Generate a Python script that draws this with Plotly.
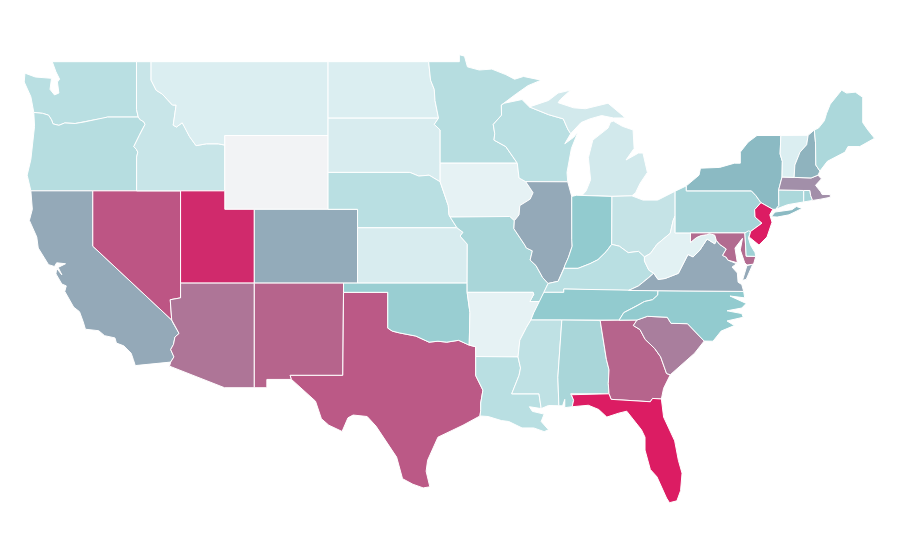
import plotly.graph_objects as go
from plotly.colors import sample_colorscale

# share shown per state, estimated from the shading, 0-100
states = ["WA", "OR", "CA", "NV", "ID", "MT", "WY", "UT", "AZ", "CO", "NM", "TX", "ND", "SD", "NE", "KS", "OK",
          "MN", "IA", "MO", "AR", "LA", "WI", "IL", "MI", "IN", "OH", "KY", "TN", "MS", "AL", "GA", "FL", "SC",
          "NC", "VA", "WV", "PA", "NY", "MD", "DE", "NJ", "CT", "RI", "MA", "VT", "NH", "ME"]
values = [18, 19, 45, 81, 13, 7, 0, 92, 66, 44, 74, 80, 7, 8, 18, 8, 28,
          19, 4, 23, 4, 18, 18, 45, 10, 30, 14, 18, 30, 16, 23, 74, 100, 62,
          30, 45, 5, 24, 38, 70, 26, 100, 22, 24, 55, 7, 41, 22]

color_stops = [[0, "#f2f3f5"], [0.04, "#e6f2f4"], [0.07, "#dbeef1"], [0.14, "#c5e3e6"], [0.18, "#b9dfe2"], [0.23, "#a9d6d9"],
               [0.3, "#92cbcf"], [0.38, "#8bbac3"], [0.45, "#94a9b8"], [0.55, "#a28fa9"],
               [0.7, "#b26b90"], [0.8, "#bb5986"], [0.92, "#d02a6c"], [1, "#dc1c63"]]

# state outlines, (lon, lat); None starts a separate piece
WA = [(-124.0, 46.25), (-124.1, 46.7), (-124.2, 47.1), (-124.65, 47.9), (-124.6, 48.38), (-123.9, 48.17), (-123.1, 48.12),
      (-122.8, 48.1), (-122.9, 47.5), (-122.6, 47.2), (-122.3, 47.3), (-122.4, 47.9), (-122.25, 48.05), (-122.5, 48.45),
      (-122.75, 49), (-117.04, 49), (-117.04, 46.42), (-116.92, 46), (-119, 46), (-119.3, 45.93), (-119.9, 45.85),
      (-120.6, 45.73), (-121.2, 45.65), (-121.9, 45.68), (-122.3, 45.55), (-122.7, 45.63), (-122.8, 45.85), (-123, 46.1),
      (-123.4, 46.2)]
OR = [(-124.2, 42), (-124.45, 42.85), (-124.2, 43.7), (-124.05, 44.7), (-123.95, 45.5), (-124, 46.25), (-123.4, 46.2),
      (-123, 46.1), (-122.8, 45.85), (-122.7, 45.63), (-122.3, 45.55), (-121.9, 45.68), (-121.2, 45.65), (-120.6, 45.73),
      (-119.9, 45.85), (-119.3, 45.93), (-119, 46), (-116.92, 46), (-116.78, 45.85), (-116.55, 45.75), (-116.46, 45.6),
      (-116.67, 45.3), (-116.85, 45), (-117.22, 44.4), (-117.05, 44.25), (-116.95, 44.1), (-117.03, 43.83), (-117.03, 42)]
CA = [(-124.2, 42), (-120, 42), (-120, 39), (-114.65, 35), (-114.57, 34.85), (-114.15, 34.27), (-114.43, 34.08),
      (-114.53, 33.68), (-114.72, 33.4), (-114.5, 33), (-114.72, 32.72), (-117.12, 32.53), (-117.25, 32.85), (-117.4, 33.2),
      (-117.9, 33.6), (-118.4, 33.75), (-118.5, 34.03), (-119.2, 34.15), (-119.6, 34.42), (-120.5, 34.5), (-120.65, 34.9),
      (-120.9, 35.45), (-121.3, 35.7), (-121.9, 36.55), (-121.8, 36.85), (-122.1, 36.95), (-122.5, 37.5), (-122.45, 37.8),
      (-122.1, 37.45), (-122.35, 37.85), (-121.85, 38.05), (-122.45, 38.1), (-122.6, 37.9),
      (-123, 38), (-123.7, 38.9), (-123.8, 39.5), (-124.3, 40.4), (-124.1, 41)]
NV = [(-120, 42), (-114.05, 42), (-114.05, 36.2), (-114.75, 36.1), (-114.65, 35), (-120, 39)]
ID = [(-117.04, 49), (-116.05, 49), (-116.05, 48), (-115.7, 47.45), (-115.3, 47.25), (-114.95, 46.95), (-114.6, 46.65),
      (-114.35, 46.65), (-114.55, 45.56), (-114.33, 45.46), (-113.94, 45.69), (-113.8, 45.52), (-113.45, 44.95),
      (-113, 44.45), (-112.3, 44.55), (-111.5, 44.55), (-111.05, 44.48), (-111.05, 42), (-117.03, 42), (-117.03, 43.83),
      (-116.95, 44.1), (-117.05, 44.25), (-117.22, 44.4), (-116.85, 45), (-116.67, 45.3), (-116.46, 45.6), (-116.55, 45.75),
      (-116.78, 45.85), (-116.92, 46), (-117.04, 46.42)]
MT = [(-116.05, 49), (-104.05, 49), (-104.05, 45), (-111.05, 45), (-111.05, 44.48), (-111.5, 44.55), (-112.3, 44.55),
      (-113, 44.45), (-113.45, 44.95), (-113.8, 45.52), (-113.94, 45.69), (-114.33, 45.46), (-114.55, 45.56),
      (-114.35, 46.65), (-114.6, 46.65), (-114.95, 46.95), (-115.3, 47.25), (-115.7, 47.45), (-116.05, 48)]
WY = [(-111.05, 45), (-104.05, 45), (-104.05, 41), (-111.05, 41)]
UT = [(-114.05, 42), (-111.05, 42), (-111.05, 41), (-109.05, 41), (-109.05, 37), (-114.05, 37)]
AZ = [(-114.05, 37), (-109.05, 37), (-109.05, 31.33), (-111.07, 31.33), (-114.8, 32.5), (-114.72, 32.72), (-114.5, 33),
      (-114.72, 33.4), (-114.53, 33.68), (-114.43, 34.08), (-114.15, 34.27), (-114.57, 34.85), (-114.65, 35),
      (-114.75, 36.1), (-114.05, 36.2)]
CO = [(-109.05, 41), (-102.05, 41), (-102.05, 37), (-109.05, 37)]
NM = [(-109.05, 37), (-103, 37), (-103.05, 32), (-106.62, 32), (-106.53, 31.78), (-108.2, 31.78), (-108.2, 31.33),
      (-109.05, 31.33)]
TX = [(-106.62, 32), (-103.05, 32), (-103, 36.5), (-100, 36.5), (-100, 34.56), (-99.7, 34.4), (-99.2, 34.3), (-98.1, 34.13),
      (-97.7, 33.98), (-97.2, 33.8), (-96.6, 33.85), (-96, 33.8), (-95.2, 33.9), (-94.48, 33.64), (-94.04, 33.55),
      (-94.04, 31.99), (-93.55, 31.2), (-93.7, 30.5), (-93.7, 30.1), (-93.75, 29.8), (-94.9, 29.3), (-96.6, 28.65),
      (-97.3, 27.4), (-97.4, 26.8), (-97.15, 25.96), (-97.6, 25.9), (-98.3, 26.1), (-99, 26.4),
      (-99.4, 27.57), (-100.5, 28.9), (-100.8, 29.25), (-101.4, 29.77), (-102.35, 29.85), (-102.7, 29.7), (-103.1, 28.96),
      (-104, 29.3), (-104.5, 29.65), (-104.9, 30.6), (-106, 31.4), (-106.53, 31.78)]
ND = [(-104.05, 49), (-97.23, 49), (-97.1, 48), (-96.85, 47.5), (-96.8, 46.9), (-96.56, 45.94), (-104.05, 45.94)]
SD = [(-104.05, 45.94), (-96.56, 45.94), (-96.85, 45.6), (-96.45, 45.3), (-96.45, 43.5), (-96.45, 42.49), (-97.2, 42.85),
      (-97.9, 42.8), (-98.5, 43), (-104.05, 43)]
NE = [(-104.05, 43), (-98.5, 43), (-97.9, 42.8), (-97.2, 42.85), (-96.45, 42.49), (-96.1, 41.7), (-95.9, 41.2),
      (-95.85, 40.7), (-95.77, 40.58), (-95.31, 40), (-102.05, 40), (-102.05, 41), (-104.05, 41)]
KS = [(-102.05, 40), (-95.31, 40), (-94.9, 39.75), (-95.1, 39.55), (-94.61, 39.11), (-94.62, 37), (-102.05, 37)]
OK = [(-103, 37), (-94.62, 37), (-94.62, 36.5), (-94.43, 35.4), (-94.48, 33.64), (-95.2, 33.9), (-96, 33.8), (-96.6, 33.85),
      (-97.2, 33.8), (-97.7, 33.98), (-98.1, 34.13), (-99.2, 34.3), (-99.7, 34.4), (-100, 34.56), (-100, 36.5), (-103, 36.5)]
MN = [(-97.23, 49), (-95.15, 49), (-95.15, 49.38), (-94.8, 49.3), (-94.6, 48.72), (-93.8, 48.55), (-92.95, 48.6),
      (-92, 48.3), (-91.4, 48.05), (-90.8, 48.2), (-89.6, 48), (-90.5, 47.7), (-91.3, 47.25), (-92.1, 46.75), (-92.3, 46.65),
      (-92.29, 46.1), (-92.85, 45.6), (-92.75, 45.1), (-92.8, 44.75), (-92, 44.4), (-91.22, 43.5), (-96.45, 43.5),
      (-96.45, 45.3), (-96.85, 45.6), (-96.56, 45.94), (-96.8, 46.9), (-96.85, 47.5), (-97.1, 48)]
IA = [(-96.45, 43.5), (-91.22, 43.5), (-91.1, 42.7), (-90.65, 42.5), (-90.15, 41.9), (-90.35, 41.55), (-91.05, 41.2),
      (-91.1, 40.7), (-91.42, 40.38), (-91.73, 40.61), (-95.77, 40.58), (-95.85, 40.7), (-95.9, 41.2), (-96.1, 41.7),
      (-96.45, 42.49)]
MO = [(-95.77, 40.58), (-91.73, 40.61), (-91.42, 40.38), (-91.45, 39.95), (-90.7, 39.05), (-90.6, 38.9), (-90.2, 38.75),
      (-90.35, 38.25), (-89.95, 37.95), (-89.5, 37.3), (-89.13, 36.98), (-89.42, 36.5), (-89.7, 36), (-90.37, 36),
      (-90.1, 36.4), (-90.15, 36.5), (-94.62, 36.5), (-94.62, 37), (-94.61, 39.11), (-95.1, 39.55), (-94.9, 39.75), (-95.31, 40)]
AR = [(-94.62, 36.5), (-90.15, 36.5), (-90.1, 36.4), (-90.37, 36), (-89.7, 36), (-90.1, 35.4), (-90.3, 35), (-90.6, 34.6),
      (-91.05, 33.9), (-91.17, 33), (-94.04, 33.02), (-94.04, 33.55), (-94.48, 33.64), (-94.43, 35.4)]
LA = [(-94.04, 33.02), (-91.17, 33), (-91, 32.4), (-91.1, 32), (-91.6, 31), (-89.75, 31), (-89.6, 30.2), (-90.4, 30.3),
      (-90.2, 30.05), (-89.4, 29.9), (-89.6, 29.5), (-89.1, 29.05), (-89.4, 28.95), (-90.1, 29.15), (-90.9, 29.15), (-91.8, 29.5),
      (-92.3, 29.55), (-93.2, 29.77), (-93.75, 29.8), (-93.7, 30.1), (-93.7, 30.5), (-93.55, 31.2), (-94.04, 31.99)]
WI = [(-92.1, 46.75), (-90.9, 46.95), (-90.4, 46.55), (-89.1, 46.13), (-88.1, 45.9), (-87.8, 45.35), (-87.6, 45.1),
      (-88, 44.55), (-87.4, 44.9), (-87.1, 45.2), (-87.55, 44.3), (-87.85, 43), (-87.8, 42.49), (-90.65, 42.5), (-91.1, 42.7),
      (-91.22, 43.5), (-92, 44.4), (-92.8, 44.75), (-92.75, 45.1), (-92.85, 45.6), (-92.29, 46.1), (-92.3, 46.65)]
IL = [(-90.65, 42.5), (-87.8, 42.49), (-87.53, 41.7), (-87.53, 39.35), (-87.5, 39), (-87.75, 38.4), (-88, 37.95),
      (-88.05, 37.8), (-88.45, 37.1), (-89.13, 36.98), (-89.5, 37.3), (-89.95, 37.95), (-90.35, 38.25), (-90.2, 38.75),
      (-90.6, 38.9), (-90.7, 39.05), (-91.45, 39.95), (-91.42, 40.38), (-91.1, 40.7), (-91.05, 41.2), (-90.35, 41.55),
      (-90.15, 41.9)]
MI = [(-86.82, 41.76), (-86.55, 42), (-86.25, 42.6), (-86.4, 43.8), (-86.1, 44.75), (-85.07, 45.4), (-84.9, 45.73),
      (-84.7, 45.78), (-84.1, 45.5), (-83.37, 45.3), (-83.3, 44.3), (-83.85, 43.67), (-83, 44.05), (-82.7, 44.05), (-82.4, 43),
      (-82.9, 42.4), (-83.2, 41.9), (-83.45, 41.73), (-84.8, 41.7), None,
      (-90.4, 46.55), (-89.1, 46.9), (-88.45, 47.3), (-87.6, 47.46), (-88.3, 46.95), (-88.45, 46.78), (-87.4, 46.5),
      (-86.6, 46.45), (-85.07, 46.75), (-84.6, 46.45), (-84.1, 46.1), (-83.9, 45.95), (-84.7, 45.95), (-85.5, 46.08),
      (-86.3, 45.9), (-86.9, 45.7), (-87.6, 45.1), (-87.8, 45.35), (-88.1, 45.9), (-89.1, 46.13)]
IN = [(-87.53, 41.7), (-87.2, 41.76), (-84.8, 41.7), (-84.82, 39.1), (-85.2, 38.7), (-85.75, 38.27), (-86.3, 38.05),
      (-87.1, 37.8), (-88.05, 37.8), (-88, 37.95), (-87.75, 38.4), (-87.5, 39), (-87.53, 39.35)]
OH = [(-84.8, 41.7), (-83.45, 41.73), (-82.7, 41.5), (-81.7, 41.5), (-80.52, 41.98), (-80.52, 40.64), (-80.65, 40.4),
      (-80.85, 39.7), (-81.75, 39.1), (-82.2, 38.6), (-82.6, 38.42), (-83, 38.72), (-83.7, 38.65), (-84.3, 39), (-84.82, 39.1)]
KY = [(-82.6, 38.42), (-83, 38.72), (-83.7, 38.65), (-84.3, 39), (-84.82, 39.1), (-85.2, 38.7), (-85.75, 38.27),
      (-86.3, 38.05), (-87.1, 37.8), (-88.05, 37.8), (-88.45, 37.1), (-89.13, 36.98), (-89.42, 36.5), (-88.07, 36.5),
      (-88.07, 36.68), (-83.68, 36.6), (-83, 36.85), (-82.3, 37.3), (-81.97, 37.54), (-82.3, 37.7), (-82.6, 38.2)]
TN = [(-89.42, 36.5), (-88.07, 36.5), (-88.07, 36.68), (-83.68, 36.6), (-81.68, 36.59), (-81.7, 36.35), (-82.05, 36.1),
      (-82.6, 36), (-83.1, 35.77), (-84, 35.4), (-84.32, 34.99), (-90.3, 35), (-90.1, 35.4), (-89.7, 36)]
MS = [(-90.3, 35), (-88.2, 35), (-88.47, 31.9), (-88.4, 30.35), (-89.1, 30.37), (-89.6, 30.2), (-89.75, 31), (-91.6, 31),
      (-91.1, 32), (-91, 32.4), (-91.17, 33), (-91.05, 33.9), (-90.6, 34.6)]
AL = [(-88.2, 35), (-85.6, 34.98), (-85.18, 32.87), (-85, 32.3), (-85.05, 31.55), (-85, 31), (-87.6, 31), (-87.4, 30.65),
      (-87.5, 30.3), (-88, 30.25), (-88, 30.7), (-88.15, 30.35), (-88.4, 30.35), (-88.47, 31.9)]
GA = [(-85.6, 34.98), (-83.1, 35), (-83.35, 34.7), (-82.9, 34.48), (-82.55, 33.95), (-81.9, 33.45), (-81.5, 33), (-81.1, 32.1),
      (-80.85, 32.03), (-81.3, 31.3), (-81.45, 30.72), (-82.05, 30.75), (-82.2, 30.57), (-84.86, 30.7), (-85, 31),
      (-85.05, 31.55), (-85, 32.3), (-85.18, 32.87)]
FL = [(-87.55, 30.95), (-85, 31), (-84.86, 30.7), (-82.2, 30.57), (-82.05, 30.75), (-81.45, 30.72), (-81.3, 29.74), (-80.55, 28.45),
      (-80.3, 27.4), (-80.05, 26.7), (-80.15, 25.75), (-80.4, 25.2), (-80.9, 25.1), (-81.1, 25.35), (-81.75, 26.5), (-82.2, 26.9),
      (-82.56, 27.95), (-82.56, 28.65), (-82.8, 29.05), (-83.8, 30.06), (-84.35, 29.95), (-85.15, 29.74), (-85.7, 30.15), (-86.4, 30.38),
      (-87.5, 30.3), (-87.4, 30.65)]
SC = [(-83.1, 35), (-82.4, 35.2), (-81.05, 35.15), (-80.8, 34.82), (-79.68, 34.8), (-78.55, 33.86), (-79.2, 33.2), (-79.9, 32.7),
      (-80.45, 32.35), (-80.85, 32.03), (-81.1, 32.1), (-81.5, 33), (-81.9, 33.45), (-82.55, 33.95), (-82.9, 34.48), (-83.35, 34.7)]
NC = [(-84.32, 34.99), (-84, 35.4), (-83.1, 35.77), (-82.6, 36), (-82.05, 36.1), (-81.7, 36.35), (-81.68, 36.59), (-75.87, 36.55),
      (-75.8, 36.2), (-76.8, 36.3), (-75.7, 35.9), (-76, 35.65), (-77, 35.5), (-76, 35.35), (-75.9, 35.15), (-77, 34.95),
      (-76.5, 34.7), (-77.4, 34.4), (-77.95, 33.85), (-78.55, 33.86),
      (-79.68, 34.8), (-80.8, 34.82), (-81.05, 35.15), (-82.4, 35.2), (-83.1, 35)]
VA = [(-83.68, 36.6), (-81.68, 36.59), (-75.87, 36.55), (-76, 36.92), (-76.25, 37.05), (-76.3, 37.55), (-76.66, 37.87), (-76.35, 38.05),
      (-76.95, 38.25), (-77.05, 38.4), (-77.3, 38.5), (-77.05, 38.85), (-77.5, 39.1), (-77.73, 39.32), (-77.83, 39.13), (-78.35, 39.39),
      (-78.87, 38.76), (-79.3, 38.42), (-79.65, 38.55), (-80.3, 37.53), (-81.2, 37.25), (-81.68, 37.2), (-81.97, 37.54),
      (-82.3, 37.3), (-83, 36.85), None,
      (-75.95, 37.15), (-75.65, 37.95), (-75.25, 38.03), (-75.7, 37.2)]
WV = [(-80.52, 40.64), (-80.52, 39.72), (-79.48, 39.72), (-79.48, 39.2), (-79.07, 39.47), (-78.75, 39.58), (-78.4, 39.62),
      (-78.2, 39.68), (-77.83, 39.6), (-77.73, 39.32), (-77.83, 39.13), (-78.35, 39.39), (-78.87, 38.76), (-79.3, 38.42),
      (-79.65, 38.55), (-80.3, 37.53), (-81.2, 37.25), (-81.68, 37.2), (-81.97, 37.54), (-82.3, 37.7), (-82.6, 38.2),
      (-82.6, 38.42), (-82.2, 38.6), (-81.75, 39.1), (-80.85, 39.7), (-80.65, 40.4)]
PA = [(-80.52, 41.98), (-79.76, 42.27), (-79.76, 42), (-75.35, 42), (-75.05, 41.75), (-74.7, 41.36), (-75.13, 40.98), (-75.1, 40.58),
      (-74.63, 40.25), (-75.4, 39.8), (-75.79, 39.72), (-80.52, 39.72)]
NY = [(-79.76, 42.27), (-78.9, 42.85), (-78.8, 43.23), (-77.5, 43.27), (-76.5, 43.5), (-76.1, 43.5), (-76.1, 44.1), (-75.57, 44.64),
      (-74.97, 45), (-73.35, 45), (-73.4, 44), (-73.25, 43.6), (-73.27, 42.75), (-73.5, 42.05), (-73.49, 41.2), (-73.7, 41),
      (-73.9, 41), (-74.7, 41.36), (-75.05, 41.75), (-75.35, 42), (-79.76, 42), None,
      (-74, 40.6), (-73.75, 40.85), (-72.6, 40.98), (-72.3, 41.15), (-71.9, 41.05), (-72.8, 40.7), (-73.6, 40.58)]
MD = [(-79.48, 39.72), (-75.79, 39.72), (-75.7, 38.46), (-75.05, 38.45), (-75.2, 38.03), (-75.65, 37.98), (-75.8, 38.1),
      (-76.1, 38.8), (-75.95, 39.43), (-76.46, 38.9), (-76.3, 38.1), (-76.95, 38.25), (-77.05, 38.4), (-77.3, 38.5),
      (-77.05, 38.85), (-77.5, 39.1), (-77.73, 39.32), (-77.83, 39.6), (-78.2, 39.68), (-78.4, 39.62), (-78.75, 39.58),
      (-79.07, 39.47), (-79.48, 39.2)]
DE = [(-75.79, 39.72), (-75.55, 39.83), (-75.4, 39.8), (-75.55, 39.45), (-75.4, 39.05), (-75.1, 38.65), (-75.05, 38.45), (-75.7, 38.46)]
NJ = [(-74.7, 41.36), (-73.9, 41), (-74.1, 40.7), (-73.95, 40.3), (-74.29, 39.5), (-74.83, 39.06), (-75.5, 39.5), (-75.4, 39.8),
      (-74.63, 40.25), (-75.1, 40.58), (-75.13, 40.98)]
CT = [(-73.5, 42.05), (-71.8, 42.02), (-71.8, 41.4), (-72.9, 41.25), (-73.7, 41), (-73.49, 41.2)]
RI = [(-71.8, 42.02), (-71.38, 42.02), (-71.33, 41.75), (-71.2, 41.48), (-71.8, 41.4)]
MA = [(-73.5, 42.05), (-73.27, 42.75), (-71.3, 42.7), (-70.83, 42.85), (-70.6, 42.65), (-71, 42.3), (-70.65, 41.95), (-70.55, 41.8),
      (-70, 41.8), (-70, 41.65), (-70.65, 41.55), (-71.2, 41.48), (-71.33, 41.75), (-71.38, 42.02), (-71.8, 42.02)]
VT = [(-73.35, 45), (-71.5, 45.01), (-71.6, 44.5), (-72.05, 44.1), (-72.4, 43.4), (-72.45, 42.73), (-73.27, 42.75), (-73.25, 43.6),
      (-73.4, 44)]
NH = [(-71.5, 45.01), (-71.08, 45.3), (-71, 44.6), (-70.98, 43.4), (-70.7, 43.07), (-70.83, 42.85), (-71.3, 42.7), (-72.45, 42.73),
      (-72.4, 43.4), (-72.05, 44.1), (-71.6, 44.5)]
ME = [(-71.08, 45.3), (-70.8, 45.4), (-70.4, 45.8), (-70.25, 46.2), (-70, 46.7), (-69.23, 47.46), (-68.9, 47.3), (-68.3, 47.35),
      (-67.8, 47.07), (-67.8, 45.7), (-67.45, 45.3), (-67, 44.85), (-68, 44.4), (-68.8, 44.4), (-69, 44.1), (-69.8, 43.75),
      (-70.2, 43.6), (-70.7, 43.07), (-70.98, 43.4), (-71, 44.6)]

outlines = {"WA": WA, "OR": OR, "CA": CA, "NV": NV, "ID": ID, "MT": MT, "WY": WY, "UT": UT, "AZ": AZ, "CO": CO, "NM": NM,
            "TX": TX, "ND": ND, "SD": SD, "NE": NE, "KS": KS, "OK": OK, "MN": MN, "IA": IA, "MO": MO, "AR": AR, "LA": LA,
            "WI": WI, "IL": IL, "MI": MI, "IN": IN, "OH": OH, "KY": KY, "TN": TN, "MS": MS, "AL": AL, "GA": GA, "FL": FL,
            "SC": SC, "NC": NC, "VA": VA, "WV": WV, "PA": PA, "NY": NY, "MD": MD, "DE": DE, "NJ": NJ, "CT": CT, "RI": RI,
            "MA": MA, "VT": VT, "NH": NH, "ME": ME}


def close_rings(points):
    # repeat the first point of each piece so the white border goes all the way round
    xs, ys, start = [], [], None
    for p in points + [None]:
        if p is None:
            xs += [start[0], None]
            ys += [start[1], None]
            start = None
            continue
        if start is None:
            start = p
        xs.append(p[0])
        ys.append(p[1])
    return xs, ys


fig = go.Figure()
for state, value in zip(states, values):
    lons, lats = close_rings(outlines[state])
    fig.add_trace(go.Scatter(
        x=lons, y=lats, name=state, mode="lines", fill="toself",
        fillcolor=sample_colorscale(color_stops, value / 100)[0],
        line=dict(color="white", width=1),
        hoveron="fills", text=f"{state}: {value}", showlegend=False,
    ))

# the page has an 8px body margin, so the ranges start 8px further in
fig.update_xaxes(range=[-125.75, -64.73], visible=False)
fig.update_yaxes(range=[21.56, 51.91], visible=False)
fig.update_layout(width=900, height=560, margin=dict(l=0, r=0, t=0, b=0),
                  paper_bgcolor="white", plot_bgcolor="white")
fig.write_html("out.html")
